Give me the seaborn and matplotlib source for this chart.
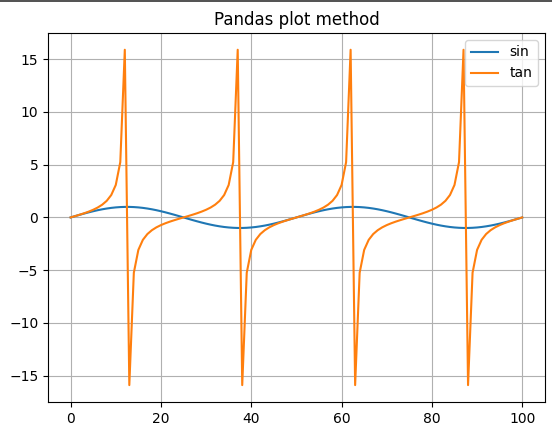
import numpy as np
import pandas as pd
import matplotlib
matplotlib.use("Agg")
import matplotlib.pyplot as plt
from matplotlib.lines import Line2D
import seaborn as sns

# values, index 0..100
sin_vals = [
    0.0, 0.125, 0.249, 0.368, 0.482, 0.588, 0.685, 0.771, 0.844, 0.905,
    0.951, 0.982, 0.998, 0.998, 0.982, 0.951, 0.905, 0.844, 0.771, 0.685,
    0.588, 0.482, 0.368, 0.249, 0.125, 0.0, -0.125, -0.249, -0.368, -0.482,
    -0.588, -0.685, -0.771, -0.844, -0.905, -0.951, -0.982, -0.998, -0.998, -0.982,
    -0.951, -0.905, -0.844, -0.771, -0.685, -0.588, -0.482, -0.368, -0.249, -0.125,
    0.0, 0.125, 0.249, 0.368, 0.482, 0.588, 0.685, 0.771, 0.844, 0.905,
    0.951, 0.982, 0.998, 0.998, 0.982, 0.951, 0.905, 0.844, 0.771, 0.685,
    0.588, 0.482, 0.368, 0.249, 0.125, 0.0, -0.125, -0.249, -0.368, -0.482,
    -0.588, -0.685, -0.771, -0.844, -0.905, -0.951, -0.982, -0.998, -0.998, -0.982,
    -0.951, -0.905, -0.844, -0.771, -0.685, -0.588, -0.482, -0.368, -0.249, -0.125,
    0.0,
]
tan_vals = [
    0.0, 0.126, 0.257, 0.396, 0.550, 0.727, 0.939, 1.209, 1.575, 2.125,
    3.078, 5.242, 15.895, -15.895, -5.242, -3.078, -2.125, -1.575, -1.209, -0.939,
    -0.727, -0.550, -0.396, -0.257, -0.126, 0.0, 0.126, 0.257, 0.396, 0.550,
    0.727, 0.939, 1.209, 1.575, 2.125, 3.078, 5.242, 15.895, -15.895, -5.242,
    -3.078, -2.125, -1.575, -1.209, -0.939, -0.727, -0.550, -0.396, -0.257, -0.126,
    0.0, 0.126, 0.257, 0.396, 0.550, 0.727, 0.939, 1.209, 1.575, 2.125,
    3.078, 5.242, 15.895, -15.895, -5.242, -3.078, -2.125, -1.575, -1.209, -0.939,
    -0.727, -0.550, -0.396, -0.257, -0.126, 0.0, 0.126, 0.257, 0.396, 0.550,
    0.727, 0.939, 1.209, 1.575, 2.125, 3.078, 5.242, 15.895, -15.895, -5.242,
    -3.078, -2.125, -1.575, -1.209, -0.939, -0.727, -0.550, -0.396, -0.257, -0.126,
    0.0,
]

df = pd.DataFrame({'sin': sin_vals, 'tan': tan_vals})

fig, ax = plt.subplots(figsize=(5.52, 4.34), dpi=100)
fig.subplots_adjust(left=0.087, right=0.987, top=0.924, bottom=0.074)

sns.lineplot(data=df, dashes=False, palette=['#1f77b4', '#ff7f0e'], ax=ax)
ax.set_title('Pandas plot method')
ax.grid(True)
ax.legend(loc='upper right')

# thin dark border line along the top edge of the image
fig.add_artist(Line2D([0, 1], [0.9985, 0.9985], transform=fig.transFigure,
                      color='#333333', lw=1.2))

fig.savefig('out.png', dpi=100)
